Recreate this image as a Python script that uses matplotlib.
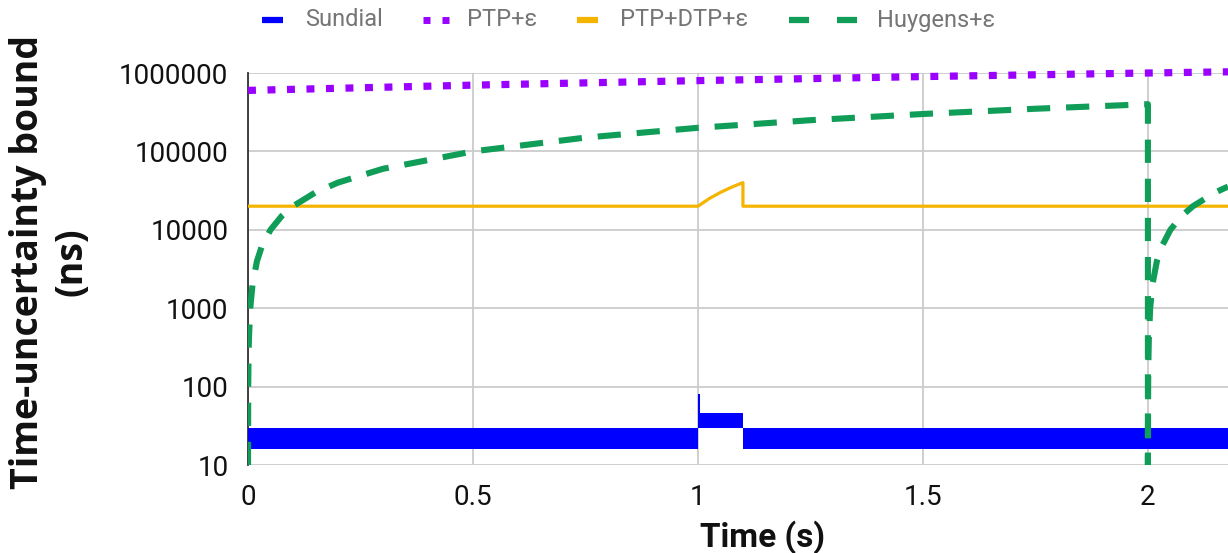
import matplotlib
matplotlib.use("Agg")
import matplotlib.pyplot as plt
from matplotlib.ticker import FixedLocator, FuncFormatter, NullLocator

# ---------------- data ----------------
# Sundial: dense sawtooth drawn as a band (lower / upper envelope), ns
sundial_t     = [0.0, 1.0, 1.0, 1.004, 1.004, 1.1, 1.1, 2.178]
sundial_low   = [16,  16,  30,  30,    30,    30,  16,  16]
sundial_high  = [30,  30,  80,  80,    46,    46,  30,  30]

ptp_t   = [0.0, 0.5, 1.0, 1.5, 2.0, 2.178]
ptp_val = [600000, 700000, 800000, 900000, 1000000, 1035000]

dtp_t   = [0.0, 1.0, 1.025, 1.05, 1.075, 1.1, 1.1, 2.178]
dtp_val = [20000, 20000, 25000, 30000, 35000, 40000, 20000, 20000]

huy_t   = [0.0, 0.0005, 0.001, 0.002, 0.005, 0.01, 0.02, 0.03, 0.05, 0.075, 0.1, 0.15,
           0.2, 0.3, 0.5, 0.75, 1.0, 1.25, 1.5, 1.75, 2.0, 2.0,
           2.0005, 2.001, 2.002, 2.005, 2.01, 2.02, 2.03, 2.05, 2.075, 2.1, 2.15, 2.178]
huy_val = [10, 100, 200, 400, 1000, 2000, 4000, 6000, 10000, 15000, 20000, 30000,
           40000, 60000, 100000, 150000, 200000, 250000, 300000, 350000, 400000, 10,
           100, 200, 400, 1000, 2000, 4000, 6000, 10000, 15000, 20000, 30000, 35600]

y_ticks  = [10, 100, 1000, 10000, 100000, 1000000]
x_ticks  = [0, 0.5, 1, 1.5, 2]
x_labels = ["0", "0.5", "1", "1.5", "2"]
series_names = ["Sundial", "PTP+ε", "PTP+DTP+ε", "Huygens+ε"]

# ---------------- style ----------------
BLUE = "#0000FF"
PURPLE = "#9900FF"
YELLOW = "#F4B400"
GREEN = "#0F9D58"

plt.rcParams["font.family"] = ["Roboto", "DejaVu Sans"]

W, H = 1228, 553
fig = plt.figure(figsize=(W / 100, H / 100), dpi=100)
ax = fig.add_axes([248 / W, 1 - 465 / H, 1 - 248 / W, (465 - 73) / H])

ax.fill_between(sundial_t, sundial_low, sundial_high, color=BLUE, linewidth=0, zorder=3)
ax.plot(dtp_t, dtp_val, color=YELLOW, lw=2.3, zorder=4)
ax.plot(huy_t, huy_val, color=GREEN, lw=4.4, linestyle=(0, (3.8, 2.6)),
        dash_capstyle="butt", zorder=5)
ax.plot(ptp_t, ptp_val, color=PURPLE, lw=5.2, linestyle=(0, (1.1, 1.6)),
        dash_capstyle="butt", zorder=6, clip_on=False)

ax.set_yscale("log")
ax.set_ylim(10, 1000000)
ax.set_xlim(0, 2.178)
ax.yaxis.set_major_locator(FixedLocator(y_ticks))
ax.yaxis.set_minor_locator(NullLocator())
ax.yaxis.set_major_formatter(FuncFormatter(lambda v, p: f"{int(round(v))}"))
ax.set_xticks(x_ticks)
ax.set_xticklabels(x_labels)

ax.grid(True, which="major", color="#CCCCCC", lw=1.3, zorder=0)
ax.set_axisbelow(True)
for s in ["top", "right", "bottom"]:
    ax.spines[s].set_visible(False)
ax.spines["left"].set_color("#333333")
ax.spines["left"].set_linewidth(1.3)
ax.tick_params(axis="both", length=0, labelsize=20, colors="#111111")
ax.tick_params(axis="y", pad=14)
ax.tick_params(axis="x", pad=14)

fig.text(50 / W, 1 - 262 / H, "Time-uncertainty bound\n(ns)", rotation=90,
         ha="center", va="center", multialignment="center",
         fontsize=27, fontweight="bold", color="#111111", linespacing=1.2,
         family=["Open Sans", "DejaVu Sans"])
fig.text(763 / W, 1 - 537 / H, "Time (s)", ha="center", va="center",
         fontsize=24, fontweight="bold", color="#111111")

# ---------------- legend (drawn in pixel coordinates) ----------------
lg = fig.add_axes([0, 0, 1, 1], facecolor="none")
lg.set_xlim(0, W)
lg.set_ylim(H, 0)
lg.axis("off")
LY = 20
# Sundial
lg.plot([262, 283], [LY, LY], color=BLUE, lw=4.5, solid_capstyle="butt")
# PTP dots
for x0 in (423, 442):
    lg.plot([x0, x0 + 7], [LY, LY], color=PURPLE, lw=5, solid_capstyle="butt")
# PTP+DTP
lg.plot([577, 598], [LY, LY], color=YELLOW, lw=4.5, solid_capstyle="butt")
# Huygens dashes
for x0 in (789, 837):
    lg.plot([x0, x0 + 20], [LY, LY], color=GREEN, lw=4.5, solid_capstyle="butt")
for xt, name in zip([305, 467, 620, 877], series_names):
    lg.text(xt, LY, name, ha="left", va="center", fontsize=17, color="#757575")

fig.savefig("out.png", dpi=100)
